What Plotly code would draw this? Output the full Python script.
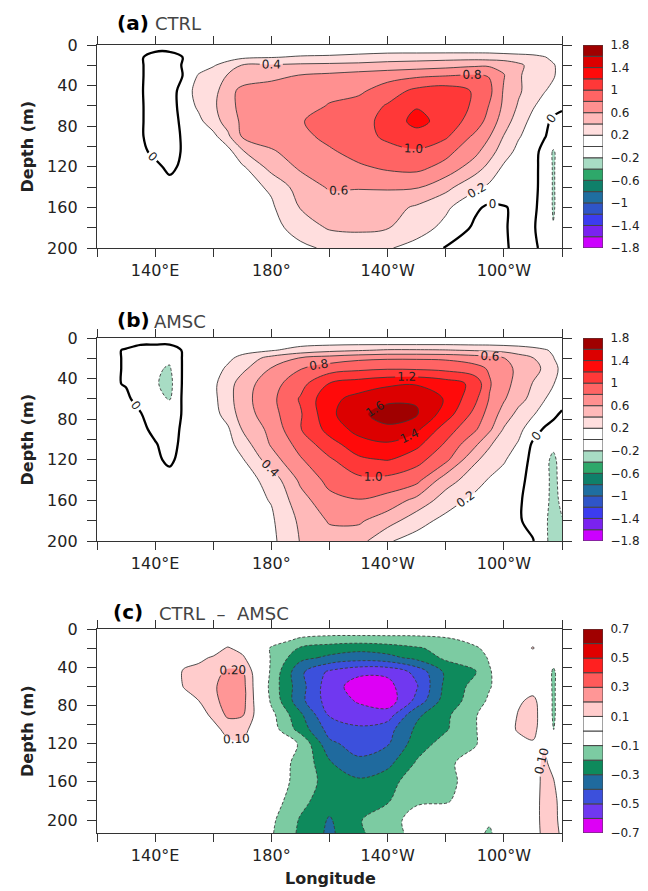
import plotly.graph_objects as go

# ---------------- data ----------------
lon = [120, 130, 135, 140, 145, 150, 155, 160, 165, 170, 180, 190, 200, 210,
       220, 230, 240, 250, 255, 260, 265, 270, 274, 277, 280]
depth_ab = [0, 6, 12, 20, 30, 45, 60, 75, 90, 105, 120, 140, 160, 180, 200]
depth_c = [0, 6, 12, 20, 30, 45, 60, 75, 90, 105, 120, 140, 160, 180, 200, 214]

ctrl = [
    [0.03, 0.03, 0.03, 0.02, 0.02, 0.03, 0.03, 0.03, 0.03, 0.03, 0.04, 0.05, 0.05, 0.05, 0.05, 0.05, 0.05, 0.05, 0.05, 0.05, 0.05, 0.05, 0.04, 0.03, 0.03],
    [0.04, 0.04, 0.03, 0.01, 0.01, 0.03, 0.04, 0.05, 0.06, 0.08, 0.10, 0.12, 0.13, 0.14, 0.15, 0.15, 0.15, 0.15, 0.15, 0.14, 0.13, 0.12, 0.10, 0.08, 0.05],
    [0.05, 0.05, 0.02, -0.08, -0.08, 0.01, 0.05, 0.08, 0.10, 0.16, 0.19, 0.22, 0.23, 0.26, 0.30, 0.31, 0.32, 0.32, 0.31, 0.29, 0.27, 0.25, 0.21, 0.15, 0.08],
    [0.05, 0.05, 0.02, -0.08, -0.08, 0.02, 0.10, 0.18, 0.30, 0.41, 0.42, 0.44, 0.45, 0.46, 0.48, 0.50, 0.53, 0.57, 0.57, 0.55, 0.45, 0.32, 0.25, 0.22, 0.12],
    [0.05, 0.05, 0.02, -0.08, -0.08, 0.01, 0.22, 0.32, 0.41, 0.47, 0.54, 0.61, 0.64, 0.68, 0.72, 0.76, 0.79, 0.82, 0.79, 0.61, 0.42, 0.33, 0.27, 0.22, 0.12],
    [0.05, 0.05, 0.02, -0.10, -0.10, 0.10, 0.28, 0.33, 0.52, 0.66, 0.70, 0.74, 0.76, 0.76, 0.90, 1.05, 1.10, 0.98, 0.85, 0.58, 0.43, 0.30, 0.21, 0.15, 0.08],
    [0.05, 0.05, 0.02, -0.08, -0.08, 0.08, 0.24, 0.36, 0.53, 0.66, 0.70, 0.74, 0.81, 0.88, 1.02, 1.18, 1.12, 0.97, 0.79, 0.56, 0.38, 0.22, 0.12, 0.06, 0.03],
    [0.05, 0.05, 0.02, -0.08, -0.08, 0.05, 0.15, 0.32, 0.48, 0.64, 0.71, 0.79, 0.86, 0.94, 1.05, 1.28, 1.10, 0.92, 0.72, 0.50, 0.30, 0.14, 0.04, -0.03, -0.06],
    [0.05, 0.05, 0.02, -0.08, -0.08, 0.03, 0.10, 0.14, 0.36, 0.62, 0.68, 0.74, 0.86, 0.94, 1.03, 1.10, 1.03, 0.76, 0.61, 0.39, 0.22, 0.10, 0.01, -0.06, -0.08],
    [0.05, 0.05, 0.02, -0.02, -0.06, 0.02, 0.06, 0.10, 0.12, 0.38, 0.58, 0.68, 0.77, 0.88, 0.95, 0.98, 0.86, 0.66, 0.48, 0.30, 0.14, 0.06, -0.06, -0.22, -0.10],
    [0.05, 0.05, 0.03, 0.02, -0.02, 0.02, 0.04, 0.07, 0.10, 0.17, 0.48, 0.63, 0.72, 0.77, 0.84, 0.86, 0.74, 0.50, 0.35, 0.17, 0.10, 0.04, -0.05, -0.22, -0.10],
    [0.05, 0.05, 0.04, 0.04, 0.03, 0.03, 0.04, 0.06, 0.08, 0.12, 0.23, 0.50, 0.62, 0.61, 0.62, 0.62, 0.46, 0.25, 0.16, 0.10, 0.07, 0.03, -0.04, -0.22, -0.10],
    [0.05, 0.05, 0.05, 0.05, 0.04, 0.04, 0.05, 0.06, 0.08, 0.10, 0.17, 0.41, 0.50, 0.52, 0.48, 0.37, 0.24, 0.03, -0.03, -0.01, 0.03, 0.02, -0.04, -0.22, -0.10],
    [0.05, 0.05, 0.05, 0.05, 0.05, 0.05, 0.05, 0.06, 0.07, 0.08, 0.12, 0.30, 0.42, 0.44, 0.41, 0.30, 0.14, -0.03, -0.04, -0.01, 0.03, 0.01, -0.04, -0.19, -0.10],
    [0.05, 0.05, 0.05, 0.05, 0.05, 0.05, 0.05, 0.06, 0.07, 0.08, 0.10, 0.15, 0.24, 0.26, 0.22, 0.12, -0.01, -0.04, -0.05, -0.01, 0.02, 0.03, -0.04, -0.10, -0.08],
]

amsc = [
    [0.03, 0.03, 0.02, 0.02, 0.02, 0.03, 0.03, 0.03, 0.03, 0.04, 0.05, 0.06, 0.07, 0.07, 0.07, 0.07, 0.07, 0.07, 0.07, 0.06, 0.06, 0.05, 0.04, 0.03, 0.03],
    [0.04, 0.03, 0.01, 0.01, 0.01, 0.04, 0.05, 0.06, 0.08, 0.10, 0.12, 0.15, 0.17, 0.18, 0.18, 0.18, 0.18, 0.17, 0.17, 0.16, 0.15, 0.13, 0.10, 0.08, 0.05],
    [0.05, -0.01, -0.08, -0.10, -0.12, 0.03, 0.05, 0.07, 0.10, 0.13, 0.18, 0.28, 0.34, 0.38, 0.42, 0.42, 0.41, 0.38, 0.36, 0.34, 0.30, 0.26, 0.22, 0.17, 0.08],
    [0.05, -0.01, -0.10, -0.14, -0.16, 0.03, 0.06, 0.10, 0.16, 0.26, 0.48, 0.62, 0.70, 0.76, 0.78, 0.78, 0.77, 0.72, 0.68, 0.61, 0.50, 0.41, 0.30, 0.21, 0.10],
    [0.05, -0.01, -0.12, -0.17, -0.22, 0.04, 0.07, 0.12, 0.23, 0.35, 0.61, 0.79, 0.90, 0.95, 0.98, 0.97, 0.94, 0.86, 0.78, 0.68, 0.55, 0.46, 0.37, 0.25, 0.16],
    [0.05, -0.01, -0.12, -0.18, -0.26, 0.05, 0.09, 0.16, 0.31, 0.50, 0.72, 0.93, 1.21, 1.30, 1.36, 1.38, 1.30, 1.15, 0.82, 0.66, 0.54, 0.39, 0.30, 0.21, 0.12],
    [0.05, 0.03, -0.06, -0.15, -0.21, 0.05, 0.10, 0.15, 0.32, 0.52, 0.75, 1.02, 1.35, 1.46, 1.56, 1.58, 1.38, 1.05, 0.79, 0.62, 0.47, 0.34, 0.21, 0.12, 0.06],
    [0.05, 0.04, 0.01, -0.10, -0.12, 0.03, 0.08, 0.13, 0.28, 0.49, 0.73, 0.98, 1.35, 1.56, 1.68, 1.62, 1.30, 0.94, 0.72, 0.52, 0.34, 0.22, 0.10, 0.03, -0.02],
    [0.05, 0.05, 0.03, -0.03, -0.08, 0.04, 0.07, 0.11, 0.17, 0.41, 0.66, 0.99, 1.27, 1.47, 1.56, 1.44, 1.10, 0.83, 0.64, 0.38, 0.26, 0.08, -0.02, -0.05, -0.06],
    [0.05, 0.05, 0.04, 0.01, -0.05, 0.04, 0.07, 0.10, 0.12, 0.30, 0.62, 0.87, 1.12, 1.31, 1.37, 1.25, 0.97, 0.64, 0.42, 0.30, 0.18, -0.03, -0.08, -0.16, -0.10],
    [0.05, 0.05, 0.05, 0.02, -0.02, 0.04, 0.06, 0.08, 0.12, 0.18, 0.51, 0.78, 0.97, 1.16, 1.21, 1.07, 0.85, 0.43, 0.33, 0.22, 0.10, -0.05, -0.15, -0.24, -0.12],
    [0.05, 0.05, 0.05, 0.05, 0.04, 0.04, 0.06, 0.08, 0.09, 0.10, 0.28, 0.64, 0.86, 0.95, 0.94, 0.86, 0.49, 0.29, 0.18, 0.12, 0.05, -0.06, -0.14, -0.25, -0.14],
    [0.05, 0.05, 0.05, 0.05, 0.05, 0.05, 0.06, 0.07, 0.09, 0.12, 0.21, 0.52, 0.74, 0.79, 0.72, 0.54, 0.30, 0.14, 0.09, 0.06, 0.02, -0.06, -0.14, -0.26, -0.16],
    [0.05, 0.05, 0.05, 0.05, 0.05, 0.05, 0.06, 0.07, 0.08, 0.10, 0.17, 0.44, 0.62, 0.63, 0.49, 0.28, 0.14, 0.09, 0.07, 0.05, 0.02, -0.06, -0.16, -0.28, -0.21],
    [0.05, 0.05, 0.05, 0.05, 0.05, 0.05, 0.06, 0.07, 0.08, 0.09, 0.15, 0.41, 0.51, 0.48, 0.22, 0.12, 0.10, 0.08, 0.06, 0.05, 0.03, 0.01, -0.14, -0.30, -0.22],
]

ctrl_minus_amsc = [
    [0, 0, 0, 0, 0, 0, 0, 0, 0, 0, -0.01, -0.03, -0.03, -0.03, -0.03, -0.03, -0.03, -0.01, 0, 0, 0, 0, 0, 0, 0],
    [0, 0, 0, 0, 0, 0, 0, 0, 0, 0, -0.03, -0.08, -0.09, -0.09, -0.09, -0.09, -0.08, -0.04, -0.02, 0, 0, 0, 0, 0, 0],
    [0, 0, 0, 0, 0, 0, 0, 0.02, 0.04, 0.02, -0.06, -0.12, -0.15, -0.16, -0.15, -0.14, -0.12, -0.08, -0.05, -0.02, 0, 0.05, 0, 0, 0],
    [0, 0, 0, 0, 0, 0.01, 0.03, 0.05, 0.11, 0.06, -0.11, -0.21, -0.25, -0.27, -0.25, -0.21, -0.17, -0.11, -0.08, -0.03, 0.02, 0.11, 0.02, 0, 0],
    [0, 0, 0, 0, 0, 0.04, 0.08, 0.11, 0.13, 0.12, -0.11, -0.27, -0.32, -0.35, -0.33, -0.27, -0.18, -0.15, -0.09, -0.05, -0.01, 0, 0, -0.05, -0.02],
    [0, 0, 0, 0, 0, 0.12, 0.13, 0.16, 0.22, 0.21, -0.12, -0.38, -0.52, -0.58, -0.58, -0.47, -0.28, -0.21, -0.11, -0.04, -0.01, 0, 0, -0.12, -0.03],
    [0, 0, 0, 0, 0, 0.11, 0.13, 0.18, 0.26, 0.24, -0.14, -0.36, -0.56, -0.64, -0.63, -0.51, -0.27, -0.17, -0.11, -0.04, 0.03, 0.04, 0, -0.12, -0.03],
    [0, 0, 0, 0, 0, 0.04, 0.10, 0.16, 0.26, 0.24, -0.12, -0.37, -0.55, -0.61, -0.66, -0.47, -0.25, -0.16, -0.08, -0.02, 0.08, 0.13, 0.03, -0.12, -0.03],
    [0, 0, 0, 0, 0, 0, 0.06, 0.12, 0.22, 0.21, -0.07, -0.28, -0.51, -0.56, -0.55, -0.32, -0.22, -0.11, -0.05, 0, 0.11, 0.14, 0.04, -0.12, -0.03],
    [0, 0, 0, 0, 0, 0, 0, 0.07, 0.13, 0.14, -0.05, -0.24, -0.44, -0.48, -0.44, -0.28, -0.21, -0.11, -0.04, 0.02, 0.12, 0.13, 0.04, -0.11, -0.03],
    [0, 0, 0, 0, 0, 0, 0, 0.03, 0.08, 0.09, -0.02, -0.11, -0.38, -0.44, -0.41, -0.25, -0.16, -0.11, -0.05, 0, 0.04, 0.09, 0.09, 0.04, 0],
    [0, 0, 0, 0, 0, 0, 0, 0, 0.02, 0.03, -0.06, -0.12, -0.29, -0.38, -0.33, -0.19, -0.12, -0.06, -0.02, 0, 0, 0.06, 0.12, 0.06, 0],
    [0, 0, 0, 0, 0, 0, 0, 0, 0, 0, -0.05, -0.13, -0.25, -0.28, -0.24, -0.14, -0.12, -0.07, -0.01, 0, 0, 0.05, 0.13, 0.11, 0.02],
    [0, 0, 0, 0, 0, 0, 0, 0, 0, 0, -0.05, -0.17, -0.26, -0.27, -0.21, -0.11, -0.11, -0.05, -0.02, 0, 0, 0.06, 0.13, 0.13, 0.06],
    [0, 0, 0, 0, 0, 0, 0, 0, 0, 0, -0.08, -0.21, -0.31, -0.21, -0.13, -0.07, -0.03, -0.06, -0.08, -0.01, 0, 0.06, 0.13, 0.13, 0.07],
    [0, 0, 0, 0, 0, 0, 0, 0, 0, 0, -0.09, -0.22, -0.32, -0.22, -0.14, -0.07, -0.03, -0.06, -0.12, -0.02, 0, 0.05, 0.13, 0.14, 0.08],
]

lon_tick_vals = [120, 140, 160, 180, 200, 220, 240, 260, 280]
lon_tick_text = ["", "140°E", "", "180°", "", "140°W", "", "100°W", ""]
depth_tick_vals = [0, 20, 40, 60, 80, 100, 120, 140, 160, 180, 200]
depth_tick_text = ["0", "", "40", "", "80", "", "120", "", "160", "", "200"]

levels_ab = dict(start=-1.8, end=1.8, size=0.2)
levels_c = dict(start=-0.7, end=0.7, size=0.1)

colors_ab = ['#cc00ff', '#7a22f0', '#3c3cf0', '#2f55c8', '#1f6ea0', '#0f806a',
             '#2ea86a', '#a8dcc4', '#ffffff', '#ffffff', '#ffdede', '#ffb9b9',
             '#ff9090', '#ff6464', '#ff3838', '#ff0a0a', '#dc0000', '#a00000']
colors_c = ['#dd00f5', '#7038f0', '#3c50dc', '#1f6a9e', '#0e8a5c', '#7ccba2',
            '#ffffff', '#ffffff', '#ffcccc', '#ff9696', '#ff5a5a', '#ff2020',
            '#e00000', '#a00000']

cbar_ab_vals = [-1.8, -1.4, -1.0, -0.6, -0.2, 0.2, 0.6, 1.0, 1.4, 1.8]
cbar_ab_text = ["\u22121.8", "\u22121.4", "\u22121", "\u22120.6", "\u22120.2", "0.2", "0.6", "1", "1.4", "1.8"]
cbar_c_vals = [-0.7, -0.5, -0.3, -0.1, 0.1, 0.3, 0.5, 0.7]
cbar_c_text = ["\u22120.7", "\u22120.5", "\u22120.3", "\u22120.1", "0.1", "0.3", "0.5", "0.7"]

# ---------------- figure ----------------
W, H = 648, 891
FONT = "DejaVu Sans"
LINE = '#333333'


def fx(p):
    return p / W


def fy(p):
    return 1 - p / H


def stepped_scale(colors):
    n = len(colors)
    ext = [colors[0]] + list(colors) + [colors[-1]]
    return [[k / (n + 1), c] for k, c in enumerate(ext)]


panels = [
    dict(z=ctrl, depth=depth_ab, top=45, bottom=248, yr=[200, 0], lev=levels_ab,
         colors=colors_ab, cbv=cbar_ab_vals, cbt=cbar_ab_text, zero=True, fmt='.1f',
         tag='(a)', sub='CTRL', tag_x=115, sub_x=153, ty=23),
    dict(z=amsc, depth=depth_ab, top=338, bottom=541, yr=[200, 0], lev=levels_ab,
         colors=colors_ab, cbv=cbar_ab_vals, cbt=cbar_ab_text, zero=True, fmt='.1f',
         tag='(b)', sub='AMSC', tag_x=115, sub_x=152, ty=320),
    dict(z=ctrl_minus_amsc, depth=depth_c, top=629, bottom=833, yr=[213.6, 0], lev=levels_c,
         colors=colors_c, cbv=cbar_c_vals, cbt=cbar_c_text, zero=False, fmt='.2f',
         tag='(c)', sub='CTRL\u00a0\u00a0\u2013\u00a0\u00a0AMSC', tag_x=111, sub_x=157, ty=612),
]

fig = go.Figure()
layout = dict(width=W, height=H, autosize=False,
              margin=dict(l=0, r=0, t=0, b=0, pad=0),
              paper_bgcolor='white', plot_bgcolor='white',
              showlegend=False, barmode='overlay',
              font=dict(family=FONT, size=16, color='#222'))
annotations = []

for i, p in enumerate(panels):
    s = '' if i == 0 else str(i + 1)
    cs = str(i + 4)
    lev = p['lev']
    xa, ya = 'x' + s, 'y' + s
    # filled bands
    fig.add_trace(go.Contour(
        x=lon, y=p['depth'], z=p['z'], xaxis=xa, yaxis=ya,
        autocontour=False,
        contours=dict(start=lev['start'], end=lev['end'], size=lev['size'],
                      coloring='fill', showlines=False),
        colorscale=stepped_scale(p['colors']), showscale=False,
        line=dict(width=0), hoverinfo='skip'))
    # positive contour lines (solid, labelled)
    fig.add_trace(go.Contour(
        x=lon, y=p['depth'], z=p['z'], xaxis=xa, yaxis=ya,
        autocontour=False,
        contours=dict(start=lev['size'], end=lev['end'], size=lev['size'],
                      coloring='none', showlabels=True,
                      labelfont=dict(family=FONT, size=12, color='#222'),
                      labelformat=p['fmt']),
        line=dict(color='#3a3a3a', width=0.9), showscale=False, hoverinfo='skip'))
    # negative contour lines (dashed)
    fig.add_trace(go.Contour(
        x=lon, y=p['depth'], z=p['z'], xaxis=xa, yaxis=ya,
        autocontour=False,
        contours=dict(start=lev['start'], end=-lev['size'], size=lev['size'],
                      coloring='none', showlabels=False),
        line=dict(color='#3a3a3a', width=0.9, dash='3px,2px'),
        showscale=False, hoverinfo='skip'))
    if p['zero']:
        fig.add_trace(go.Contour(
            x=lon, y=p['depth'], z=p['z'], xaxis=xa, yaxis=ya,
            autocontour=False,
            contours=dict(start=0, end=0, size=lev['size'], coloring='none',
                          showlabels=True,
                          labelfont=dict(family=FONT, size=12, color='#222'),
                          labelformat='.0f'),
            line=dict(color='black', width=2.3), showscale=False, hoverinfo='skip'))
    # colour key as outlined boxes
    n = len(p['colors'])
    bases = [lev['start'] + k * lev['size'] for k in range(n)]
    fig.add_trace(go.Bar(
        x=[0] * n, y=[lev['size']] * n, base=bases, width=1,
        marker=dict(color=p['colors'], line=dict(color='#444444', width=1)),
        xaxis='x' + cs, yaxis='y' + cs, hoverinfo='skip'))

    ydom = [fy(p['bottom']), fy(p['top'])]
    layout['xaxis' + s] = dict(
        domain=[fx(97), fx(562)], anchor=ya, range=[120, 280], automargin=False,
        tickvals=lon_tick_vals, ticktext=lon_tick_text,
        ticks='outside', ticklen=8, tickwidth=1, tickcolor=LINE,
        mirror='allticks', showline=True, linecolor=LINE, linewidth=1.2,
        showgrid=False, zeroline=False, tickfont=dict(size=16, color='#222'))
    layout['yaxis' + s] = dict(
        domain=ydom, anchor=xa, range=p['yr'], automargin=False,
        tickvals=depth_tick_vals, ticktext=depth_tick_text,
        ticks='outside', ticklen=9, tickwidth=1, tickcolor=LINE,
        mirror='allticks', showline=True, linecolor=LINE, linewidth=1.2,
        showgrid=False, zeroline=False, ticklabelstandoff=6,
        tickfont=dict(size=16, color='#222'))
    layout['xaxis' + cs] = dict(domain=[fx(583), fx(603)], anchor='y' + cs,
                                range=[-0.5, 0.5], visible=False, automargin=False)
    layout['yaxis' + cs] = dict(
        domain=ydom, anchor='x' + cs, side='right', automargin=False,
        range=[lev['start'], lev['end']],
        tickvals=p['cbv'], ticktext=p['cbt'], ticks='outside', ticklen=4,
        tickcolor='rgba(0,0,0,0)', showline=False, showgrid=False,
        zeroline=False, tickfont=dict(size=12, color='#222'))

    annotations.append(dict(x=fx(p['tag_x']), y=fy(p['ty']), xref='paper', yref='paper',
                            text='<b>' + p['tag'] + '</b>', showarrow=False,
                            xanchor='left', yanchor='middle',
                            font=dict(family=FONT, size=20, color='black')))
    annotations.append(dict(x=fx(p['sub_x']), y=fy(p['ty'] + 1), xref='paper', yref='paper',
                            text=p['sub'], showarrow=False,
                            xanchor='left', yanchor='middle',
                            font=dict(family=FONT, size=18, color='#444')))
    annotations.append(dict(x=fx(27), y=fy((p['top'] + p['bottom']) / 2),
                            xref='paper', yref='paper', text='<b>Depth (m)</b>',
                            showarrow=False, textangle=-90,
                            xanchor='center', yanchor='middle',
                            font=dict(family=FONT, size=16, color='#222')))

annotations.append(dict(x=fx(330), y=fy(878), xref='paper', yref='paper',
                        text='<b>Longitude</b>', showarrow=False,
                        xanchor='center', yanchor='middle',
                        font=dict(family=FONT, size=16, color='#222')))
layout['annotations'] = annotations
fig.update_layout(**layout)

fig.write_html("out.html",
               config={'displayModeBar': False, 'staticPlot': True},
               post_script="document.body.style.margin='0';document.body.style.overflow='hidden';")
